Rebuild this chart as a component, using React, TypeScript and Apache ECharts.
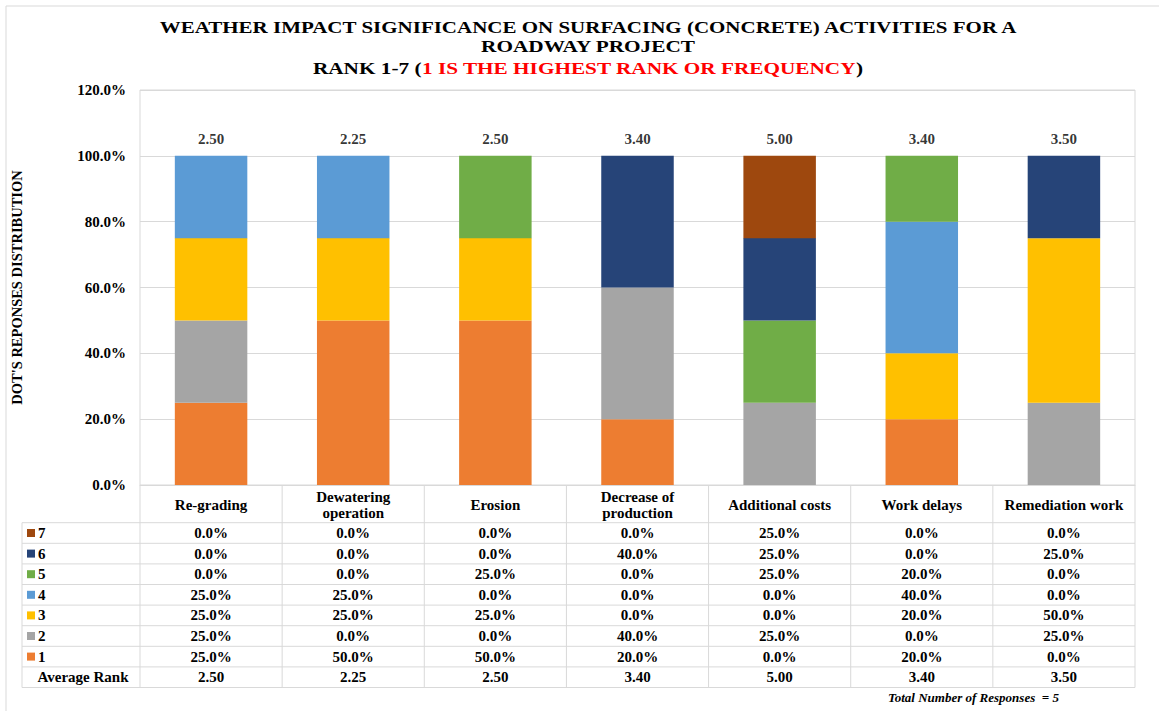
import React, { useEffect, useRef } from "react";
import * as echarts from "echarts";

const categories = [
  "Re-grading",
  "Dewatering operation",
  "Erosion",
  "Decrease of production",
  "Additional costs",
  "Work delays",
  "Remediation work",
];
const headerLabels = [
  "Re-grading",
  "Dewatering\noperation",
  "Erosion",
  "Decrease of\nproduction",
  "Additional costs",
  "Work delays",
  "Remediation work",
];
const rank1 = [25, 50, 50, 20, 0, 20, 0];
const rank2 = [25, 0, 0, 40, 25, 0, 25];
const rank3 = [25, 25, 25, 0, 0, 20, 50];
const rank4 = [25, 25, 0, 0, 0, 40, 0];
const rank5 = [0, 0, 25, 0, 25, 20, 0];
const rank6 = [0, 0, 0, 40, 25, 0, 25];
const rank7 = [0, 0, 0, 0, 25, 0, 0];
const avgRank = [2.5, 2.25, 2.5, 3.4, 5.0, 3.4, 3.5];
const rankNames = ["1", "2", "3", "4", "5", "6", "7"];
const rankColors = ["#ED7D31", "#A5A5A5", "#FFC000", "#5B9BD5", "#70AD47", "#264478", "#9E480E"];
const titleLine1 = "WEATHER IMPACT SIGNIFICANCE ON SURFACING (CONCRETE) ACTIVITIES FOR A";
const titleLine2 = "ROADWAY PROJECT";
const titleLine3a = "RANK 1-7 (";
const titleLine3b = "1 IS THE HIGHEST RANK OR FREQUENCY";
const titleLine3c = ")";
const yAxisName = "DOT'S REPONSES DISTRIBUTION";
const footNote = "Total Number of Responses  = 5";

const FONT = "'Liberation Serif', 'Times New Roman', serif";

export default function App() {
  const ref = useRef<HTMLDivElement>(null);
  useEffect(() => {
    document.body.style.margin = "0";
    const chart = echarts.init(ref.current!, null, { renderer: "svg" });
    const ranks = [rank1, rank2, rank3, rank4, rank5, rank6, rank7];
    const gridLeft = 140;
    const gridRight = 1135;
    const gridTop = 90;
    const gridBottom = 485;
    const series: any[] = ranks.map((r, i) => ({
      name: rankNames[i],
      type: "bar",
      stack: "total",
      data: r,
      barWidth: "51%",
      itemStyle: { color: rankColors[i] },
    }));
    series.push({
      name: "avg",
      type: "scatter",
      symbolSize: 0,
      data: categories.map((_, i) => [i, 100]),
      label: {
        show: true,
        position: "top",
        distance: 9,
        formatter: (p: any) => avgRank[p.dataIndex].toFixed(2),
        fontFamily: FONT,
        fontWeight: "bold",
        fontSize: 15,
        color: "#000",
      },
      silent: true,
    });
    chart.setOption({
      animation: false,
      backgroundColor: "#fff",
      grid: {
        left: gridLeft,
        right: 1159 - gridRight,
        top: gridTop,
        bottom: 711 - gridBottom,
        show: true,
        borderColor: "#d9d9d9",
        borderWidth: 1,
      },
      xAxis: {
        type: "category",
        data: categories,
        axisLine: { show: true, lineStyle: { color: "#d9d9d9" } },
        axisTick: { show: false },
        axisLabel: { show: false },
      },
      yAxis: {
        type: "value",
        min: 0,
        max: 120,
        interval: 20,
        name: yAxisName,
        nameLocation: "middle",
        nameGap: 116,
        nameRotate: 90,
        nameTextStyle: { fontFamily: FONT, fontWeight: "bold", fontSize: 14.5, color: "#000" },
        axisLine: { show: false },
        axisTick: { show: false },
        splitLine: { lineStyle: { color: "#d9d9d9" } },
        axisLabel: {
          formatter: (v: number) => v.toFixed(1) + "%",
          fontFamily: FONT,
          fontWeight: "bold",
          fontSize: 15,
          color: "#000",
          margin: 14,
        },
      },
      series,
    });

    // Data table below the plot
    const colW = (gridRight - gridLeft) / categories.length;
    const centers = categories.map((_, i) => chart.convertToPixel({ xAxisIndex: 0 }, i) as number);
    const headerBottom = 522.7;
    const rowH = 20.6;
    const tableLeft = 22;
    const rowsOrder = [6, 5, 4, 3, 2, 1, 0];
    const nRows = rowsOrder.length + 1;
    const tableBottom = headerBottom + nRows * rowH;
    const lineStyle = { stroke: "#d9d9d9", lineWidth: 1 };
    const els: any[] = [];
    els.push({
      type: "rect",
      shape: { x: 6, y: 6, width: 1170, height: 720 },
      style: { fill: "none", stroke: "#d9d9d9", lineWidth: 1 },
      silent: true,
    });
    const titleStyle = { fontFamily: FONT, fontWeight: "bold", fontSize: 17, fill: "#000", align: "center", verticalAlign: "middle" };
    const titleCx = 588;
    els.push({ type: "text", x: titleCx, y: 27, scaleX: 1.235, silent: true, style: { text: titleLine1, ...titleStyle } });
    els.push({ type: "text", x: titleCx, y: 46, scaleX: 1.25, silent: true, style: { text: titleLine2, ...titleStyle } });
    els.push({
      type: "text",
      x: titleCx,
      y: 68,
      scaleX: 1.25,
      silent: true,
      style: {
        text: "{b|" + titleLine3a + "}{r|" + titleLine3b + "}{b|" + titleLine3c + "}",
        align: "center",
        verticalAlign: "middle",
        rich: {
          b: { fontFamily: FONT, fontWeight: "bold", fontSize: 17, fill: "#000" },
          r: { fontFamily: FONT, fontWeight: "bold", fontSize: 17, fill: "#FF0000" },
        },
      },
    });
    for (let k = 0; k <= nRows; k++) {
      const y = headerBottom + k * rowH;
      els.push({ type: "line", shape: { x1: tableLeft, y1: y, x2: gridRight, y2: y }, style: lineStyle, silent: true });
    }
    els.push({ type: "line", shape: { x1: tableLeft, y1: headerBottom, x2: tableLeft, y2: tableBottom }, style: lineStyle, silent: true });
    for (let c = 0; c <= categories.length; c++) {
      const x = gridLeft + c * colW;
      els.push({ type: "line", shape: { x1: x, y1: gridBottom, x2: x, y2: tableBottom }, style: lineStyle, silent: true });
    }
    const cellText = (x: number, y: number, text: string, extra: any = {}) => ({
      type: "text",
      x,
      y,
      silent: true,
      style: {
        text,
        fontFamily: FONT,
        fontWeight: "bold",
        fontSize: 15,
        fill: "#000",
        align: "center",
        verticalAlign: "middle",
        lineHeight: 16,
        ...extra,
      },
    });
    headerLabels.forEach((h, i) => {
      els.push(cellText(centers[i], (gridBottom + headerBottom) / 2 + 1, h));
    });
    rowsOrder.forEach((ri, r) => {
      const yc = headerBottom + r * rowH + rowH / 2;
      els.push({
        type: "rect",
        shape: { x: tableLeft + 5, y: yc - 4, width: 8, height: 8 },
        style: { fill: rankColors[ri] },
        silent: true,
      });
      els.push(cellText(tableLeft + 16, yc, rankNames[ri], { align: "left" }));
      ranks[ri].forEach((v, i) => {
        els.push(cellText(centers[i], yc, v.toFixed(1) + "%"));
      });
    });
    {
      const yc = headerBottom + rowsOrder.length * rowH + rowH / 2;
      els.push(cellText((tableLeft + gridLeft) / 2 + 2, yc, "Average Rank"));
      avgRank.forEach((v, i) => {
        els.push(cellText(centers[i], yc, v.toFixed(2)));
      });
    }
    els.push({
      type: "text",
      x: 888,
      y: 697,
      silent: true,
      style: {
        text: footNote,
        fontFamily: FONT,
        fontWeight: "bold",
        fontStyle: "italic",
        fontSize: 13,
        fill: "#000",
        align: "left",
        verticalAlign: "middle",
      },
    });
    chart.setOption({ graphic: { elements: els } });
    return () => chart.dispose();
  }, []);
  return <div ref={ref} style={{ width: 1159, height: 711 }} />;
}
